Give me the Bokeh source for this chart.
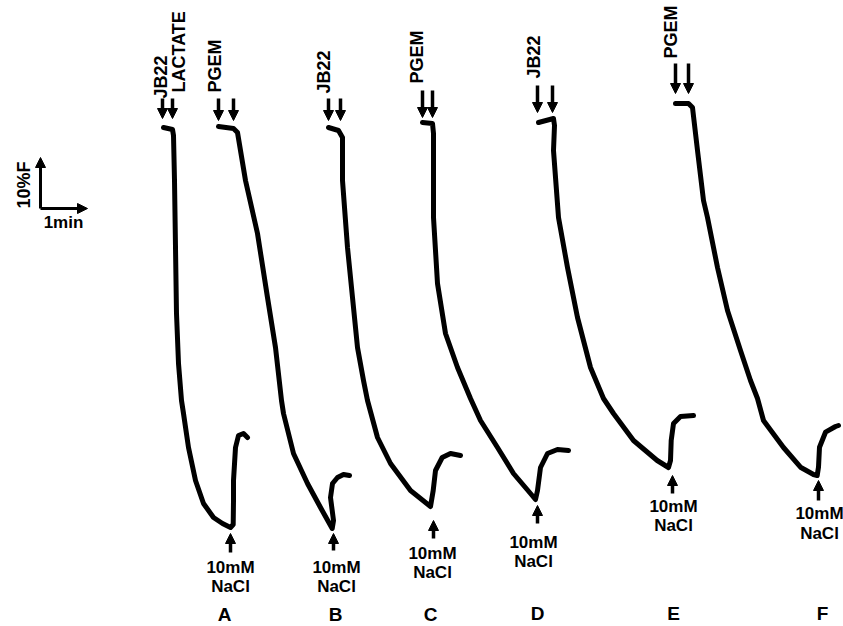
import math
from bokeh.plotting import figure
from bokeh.models import ColumnDataSource, Range1d, Arrow, NormalHead
from bokeh.core.properties import value
from bokeh.embed import file_html
from bokeh.resources import INLINE

# ---- trace data (time position, fluorescence position; chart units, y grows downward) ----
trace_A_t = [163, 172, 173, 174, 175, 176, 178, 181, 183, 188, 195, 203, 213, 222, 230, 232.7, 233, 233, 235, 238, 243, 247]
trace_A_f = [127, 129, 135, 180, 247, 313, 363, 400, 413, 447, 480, 503, 517, 523, 527, 524, 500, 480, 447, 435, 433, 437]

trace_B_t = [218, 233, 237, 245, 257, 267, 275, 281, 283, 293, 307, 320, 331.7, 333, 330, 332, 337, 343, 349]
trace_B_f = [126, 128, 132, 180, 233, 297, 347, 400, 413, 453, 483, 507, 528, 520, 497, 483, 477, 474, 475]

trace_C_t = [328, 338, 342, 342, 347, 352, 357, 363, 367, 377, 390, 410, 430, 432.7, 435, 441.7, 450, 460]
trace_C_f = [127, 130, 137, 180, 247, 297, 347, 380, 400, 437, 463, 490, 506, 490, 470, 457, 453, 455]

trace_D_t = [422, 432, 433, 433, 433, 437, 445, 457, 470, 480, 497, 513, 530, 535, 537, 540, 547, 557, 568]
trace_D_f = [122, 123, 133, 180, 217, 283, 333, 367, 398, 420, 447, 473, 493, 499, 490, 467, 453, 449, 450]

trace_E_t = [538, 553, 554, 553, 558, 567, 577, 590, 603, 613, 633, 656.7, 668, 670, 670.7, 673, 680, 693]
trace_E_f = [122, 118, 125, 150, 217, 267, 317, 367, 398, 413, 440, 460, 467, 460, 440, 423, 416, 415]

trace_F_t = [675, 688, 692, 697, 703, 707, 717, 727, 740, 750, 757, 763, 783, 800, 813, 816.7, 818, 819, 825, 835, 838]
trace_F_f = [103, 103, 107, 150, 200, 217, 267, 310, 350, 380, 398, 420, 447, 466.7, 474, 475, 466.7, 446.7, 431.7, 426, 425]

traces_t = [trace_A_t, trace_B_t, trace_C_t, trace_D_t, trace_E_t, trace_F_t]
traces_f = [trace_A_f, trace_B_f, trace_C_f, trace_D_f, trace_E_f, trace_F_f]

# ---- labels ----
panel_letters = ["A", "B", "C", "D", "E", "F"]
addition_labels = ["JB22", "LACTATE", "PGEM", "JB22", "PGEM", "JB22", "PGEM"]
nacl_line1 = ["10mM"] * 6
nacl_line2 = ["NaCl"] * 6
scale_y_label = "10%F"
scale_x_label = "1min"

# ---- placement (chart units) ----
letter_x = [224, 335, 430, 537, 673, 822]
letter_y = [614, 614, 614, 613, 613, 613]
addlab_x = [160, 178, 214, 323, 416, 533, 670]
addlab_y = [98, 92, 92, 93, 83, 78, 58]
nacl_x = [230, 336, 432, 533, 673, 819]
nacl1_y = [567, 567, 553, 542, 506, 513]
nacl2_y = [586, 586, 572, 561, 525, 533]

# addition arrows (down)
add_arrow_x = [162, 172, 218, 233, 328, 340, 422, 432, 537, 552, 675, 688]
add_arrow_y0 = [98, 98, 98, 98, 98, 98, 90, 90, 85, 85, 63, 63]
add_arrow_y1 = [118, 118, 120, 120, 120, 120, 117, 117, 112, 112, 93, 93]
# NaCl arrows (up)
nacl_arrow_x = [230, 333, 433, 537, 672, 818]
nacl_arrow_y0 = [552, 550, 538, 523, 493, 500]
nacl_arrow_y1 = [533, 533, 520, 505, 475, 480]

p = figure(width=843, height=626, output_backend="svg", toolbar_location=None,
           x_range=Range1d(0, 843), y_range=Range1d(626, 0), min_border=0)
p.axis.visible = False
p.grid.visible = False
p.outline_line_color = None
p.background_fill_color = "white"

for t, f in zip(traces_t, traces_f):
    p.line(t, f, line_width=5, line_color="black", line_join="round", line_cap="round")

def arrows(xs0, ys0, xs1, ys1, lw=3.5, size=10):
    src = ColumnDataSource(dict(x0=xs0, y0=ys0, x1=xs1, y1=ys1))
    p.add_layout(Arrow(end=NormalHead(size=size, fill_color="black", line_color="black", line_width=1),
                       x_start="x0", y_start="y0", x_end="x1", y_end="y1",
                       line_width=lw, line_color="black", source=src))

arrows(add_arrow_x, add_arrow_y0, add_arrow_x, add_arrow_y1)
arrows(nacl_arrow_x, nacl_arrow_y0, nacl_arrow_x, nacl_arrow_y1)
# scale bar
arrows([40, 40], [208, 208], [40, 87], [157, 208], lw=3, size=10)

font = value("Liberation Sans")

def texts(xs, ys, labels, size, angle=0.0, align="center"):
    src = ColumnDataSource(dict(x=xs, y=ys, text=labels))
    p.text(x="x", y="y", text="text", source=src, angle=angle, text_align=align,
           text_baseline="middle", text_font=font, text_font_style="bold",
           text_font_size=size, text_color="black")

texts(addlab_x, addlab_y, addition_labels, "18px", angle=math.pi / 2, align="left")
texts(nacl_x, nacl1_y, nacl_line1, "17px")
texts(nacl_x, nacl2_y, nacl_line2, "17px")
texts(letter_x, letter_y, panel_letters, "19px")
texts([23], [208], [scale_y_label], "18px", angle=math.pi / 2, align="left")
texts([63], [222], [scale_x_label], "17px")

open("out.html", "w").write(file_html(p, INLINE))
